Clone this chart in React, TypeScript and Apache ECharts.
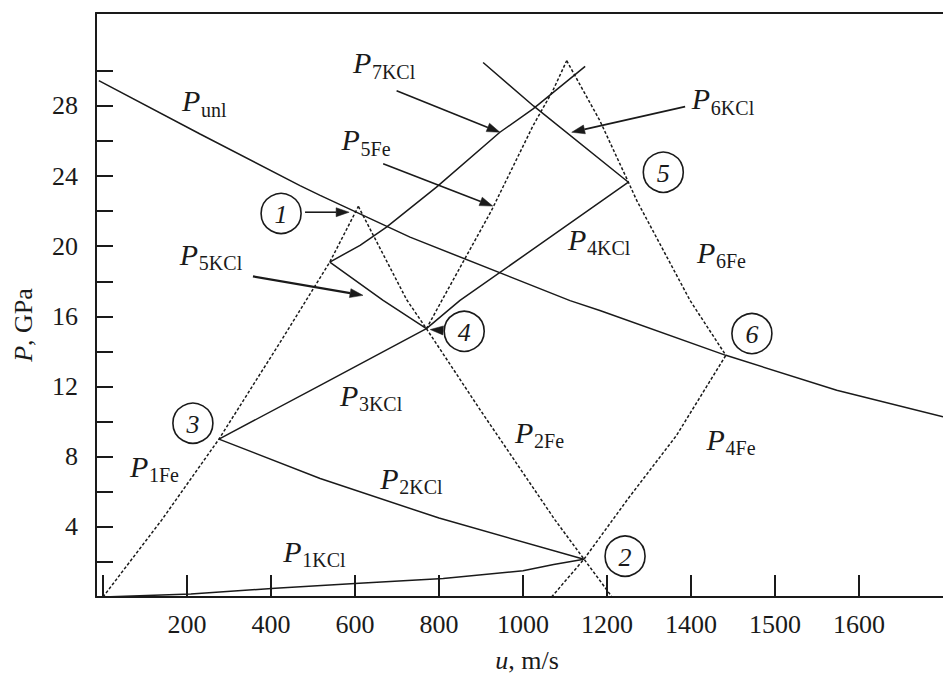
import React, { useEffect, useRef } from 'react';
import * as echarts from 'echarts';

// Axis ticks and labels (u in m/s, P in GPa)
const xTickValues = [0, 200, 400, 600, 800, 1000, 1200, 1400, 1600, 1800];
const xLabelValues = [200, 400, 600, 800, 1000, 1200, 1400, 1600, 1800];
const xLabelTexts = ['200', '400', '600', '800', '1000', '1200', '1400', '1500', '1600'];
const yTickValues = [2, 4, 6, 8, 10, 12, 14, 16, 18, 20, 22, 24, 26, 28, 30];
const yLabelValues = [4, 8, 12, 16, 20, 24, 28];

// Unloading isentrope
const pUnl = [[-10, 29.44], [231, 26.4], [469, 23.46], [517, 22.9], [731, 20.52], [1112, 16.9], [1183, 16.34], [1483, 13.78], [1747, 11.79], [2000, 10.27]];

// Iron Hugoniots (dotted)
const p1Fe = [[0, 0], [140, 4.4], [276, 9.0], [429, 14.8], [540, 19.1], [608, 22.27]];
const p2Fe = [[608, 22.27], [723, 16.95], [770, 15.3], [900, 10.6], [1076, 4.4], [1212, 0]];
const p4Fe = [[1068, 0], [1145, 2.15], [1250, 5.6], [1365, 9.2], [1483, 13.78]];
const p5Fe = [[770, 15.3], [802, 16.7], [925, 22.04], [1024, 26.88], [1071, 28.87], [1104, 30.58]];
const p6Fe = [[1104, 30.58], [1183, 27.16], [1251, 23.65], [1271, 22.6], [1398, 16.9], [1483, 13.78]];

// KCl Hugoniots (solid)
const p1KCl = [[0, 0], [209, 0.17], [410, 0.5], [610, 0.78], [810, 1.06], [1000, 1.5], [1073, 1.85], [1145, 2.15]];
const p2KCl = [[276, 9.0], [517, 6.76], [800, 4.5], [1145, 2.15]];
const p3KCl = [[276, 9.0], [517, 12.07], [770, 15.3]];
const p4KCl = [[770, 15.3], [850, 16.91], [1251, 23.65]];
const p5KCl = [[540, 19.1], [667, 16.91], [770, 15.3]];
const p6KCl = [[905, 30.48], [1025, 28.0], [1251, 23.65]];
const p7KCl = [[540, 19.1], [612, 20.05], [675, 21.09], [794, 23.37], [945, 26.5], [1024, 27.83], [1148, 30.26]];

// Curve captions: subscript text and anchor (left edge of "P", its mid-height) in (u, P)
const captionSubs = ['unl', '5KCl', '7KCl', '5Fe', '4KCl', '6Fe', '4Fe', '1Fe', '1KCl', '2KCl', '3KCl', '2Fe', '6KCl'];
const captionAnchors = [[188, 28.3], [183, 19.53], [595, 30.47], [568, 26.08], [1107, 20.39], [1414, 19.65], [1437, 9.0], [64, 7.46], [429, 2.62], [660, 6.78], [564, 11.5], [981, 9.4], [1402, 28.42]];

// Numbered state markers
const stateNumbers = ['1', '2', '3', '4', '5', '6'];
const stateAnchors = [[424, 21.87], [1243, 2.33], [214, 9.91], [860, 15.15], [1334, 24.22], [1545, 15.02]];

// Pointer arrows: tail -> tip in (u, P)
const arrowTails = [[699, 28.87], [667, 24.7], [1386, 27.96], [357, 18.28], [481, 21.94], [810, 15.2]];
const arrowTips = [[945, 26.5], [928, 22.29], [1116, 26.5], [619, 17.2], [586, 21.94], [779, 15.25]];
const arrowWidths = [1.6, 1.6, 1.6, 2.2, 1.6, 1.6];

const INK = '#1a1a1a';
const FAMILY = 'Liberation Serif';

const solid = (name: string, data: number[][]) => ({
  name, type: 'line', data, showSymbol: false, symbol: 'none', silent: true,
  lineStyle: { color: INK, width: 1.5 },
});
const dotted = (name: string, data: number[][]) => ({
  name, type: 'line', data, showSymbol: false, symbol: 'none', silent: true,
  lineStyle: { color: INK, width: 1.5, type: [3, 2] },
});

export default function App() {
  const ref = useRef<HTMLDivElement>(null);

  useEffect(() => {
    if (!ref.current) return;
    const chart = echarts.init(ref.current, null, { renderer: 'svg' });
    const plain = { fontFamily: FAMILY, fontSize: 26, fontStyle: 'normal', color: INK };
    const italic = { fontFamily: FAMILY, fontSize: 26, fontStyle: 'italic', color: INK };

    chart.setOption({
      animation: false,
      backgroundColor: '#ffffff',
      textStyle: { fontFamily: FAMILY },
      grid: { left: 96, right: 0, top: 13, bottom: 81 },
      xAxis: [
        {
          type: 'value', min: -16.7, max: 2000,
          name: '{i|u}{t|, m/s}', nameLocation: 'middle', nameGap: 50,
          nameTextStyle: { ...plain, padding: [0, 0, 0, 15], rich: { i: italic, t: plain } },
          axisLine: { show: true, onZero: false, lineStyle: { color: INK, width: 2 } },
          axisTick: { show: true, inside: true, length: 22, customValues: xTickValues, lineStyle: { color: INK, width: 2 } },
          axisLabel: {
            customValues: xLabelValues, margin: 14, ...plain,
            formatter: (v: number) => `{t|${xLabelTexts[xLabelValues.indexOf(v)] ?? ''}}`,
            rich: { t: plain },
          },
          splitLine: { show: false },
        },
        {
          type: 'value', min: -16.7, max: 2000, position: 'top',
          axisLine: { show: true, onZero: false, lineStyle: { color: INK, width: 2 } },
          axisTick: { show: false }, axisLabel: { show: false }, splitLine: { show: false },
        },
      ],
      yAxis: {
        type: 'value', min: 0, max: 33.3,
        name: '{i|P}{t|, GPa}', nameLocation: 'middle', nameRotate: 90, nameGap: 60,
        nameTextStyle: { ...plain, padding: [0, 40, 0, 0], rich: { i: italic, t: plain } },
        axisLine: { show: true, onZero: false, lineStyle: { color: INK, width: 2 } },
        axisTick: { show: true, inside: true, length: 17, customValues: yTickValues, lineStyle: { color: INK, width: 2 } },
        axisLabel: {
          customValues: yLabelValues, margin: 18, ...plain,
          formatter: (v: number) => `{t|${v}}`,
          rich: { t: plain },
        },
        splitLine: { show: false },
      },
      series: [
        solid('P_unl', pUnl),
        dotted('P_1Fe', p1Fe), dotted('P_2Fe', p2Fe), dotted('P_4Fe', p4Fe), dotted('P_5Fe', p5Fe), dotted('P_6Fe', p6Fe),
        solid('P_1KCl', p1KCl), solid('P_2KCl', p2KCl), solid('P_3KCl', p3KCl), solid('P_4KCl', p4KCl),
        solid('P_5KCl', p5KCl), solid('P_6KCl', p6KCl), solid('P_7KCl', p7KCl),
      ],
    });

    const toPx = (p: number[]) => chart.convertToPixel({ xAxisIndex: 0, yAxisIndex: 0 }, p) as number[];
    const elements: any[] = [];

    captionSubs.forEach((sub, i) => {
      const [x, y] = toPx(captionAnchors[i]);
      elements.push({
        type: 'text', x, y, silent: true,
        style: { text: 'P', font: `italic 30px ${FAMILY}`, fill: INK, textAlign: 'left', textVerticalAlign: 'middle', align: 'left', verticalAlign: 'middle' },
      });
      elements.push({
        type: 'text', x: x + 19, y: y + 9, silent: true,
        style: { text: sub, font: `20px ${FAMILY}`, fill: INK, textAlign: 'left', textVerticalAlign: 'middle', align: 'left', verticalAlign: 'middle' },
      });
    });

    stateNumbers.forEach((n, i) => {
      const [x, y] = toPx(stateAnchors[i]);
      elements.push({
        type: 'circle', shape: { cx: x, cy: y, r: 20 }, silent: true,
        style: { fill: 'none', stroke: INK, lineWidth: 1.6 },
      });
      elements.push({
        type: 'text', x, y: y + 1, silent: true,
        style: { text: n, font: `italic 26px ${FAMILY}`, fill: INK, textAlign: 'center', textVerticalAlign: 'middle', align: 'center', verticalAlign: 'middle' },
      });
    });

    arrowTails.forEach((tail, i) => {
      const [x1, y1] = toPx(tail);
      const [x2, y2] = toPx(arrowTips[i]);
      const len = Math.hypot(x2 - x1, y2 - y1);
      const dx = (x2 - x1) / len, dy = (y2 - y1) / len;
      const head = 13, half = 4.5;
      const bx = x2 - dx * head, by = y2 - dy * head;
      elements.push({
        type: 'line', silent: true,
        shape: { x1, y1, x2: bx, y2: by },
        style: { stroke: INK, lineWidth: arrowWidths[i] },
      });
      elements.push({
        type: 'polygon', silent: true,
        shape: { points: [[x2, y2], [bx - dy * half, by + dx * half], [bx + dy * half, by - dx * half]] },
        style: { fill: INK, stroke: INK, lineWidth: 0.5 },
      });
    });

    chart.setOption({ graphic: { elements } });

    return () => chart.dispose();
  }, []);

  return <div ref={ref} style={{ position: 'absolute', left: 0, top: 0, width: 943, height: 678 }} />;
}
